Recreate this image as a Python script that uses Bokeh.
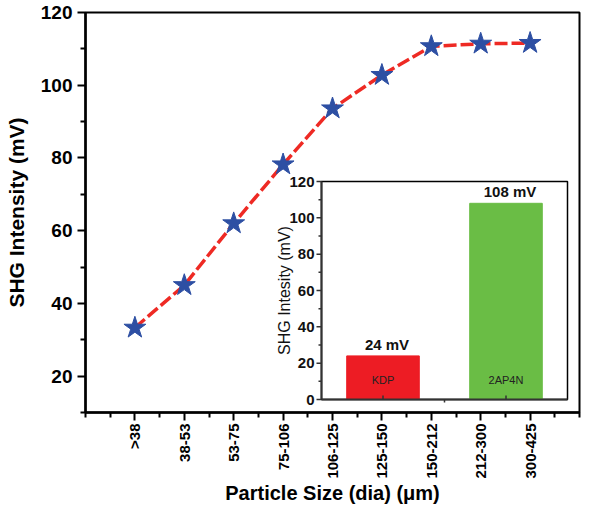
import math
from bokeh.plotting import figure
from bokeh.models import Range1d, FixedTicker, ColumnDataSource
from bokeh.core.properties import value
from bokeh.embed import file_html
from bokeh.resources import INLINE

# ---- data: main series ----
size_labels = [">38", "38-53", "53-75", "75-106", "106-125", "125-150", "150-212", "212-300", "300-425"]
size_pos = [1, 2, 3, 4, 5, 6, 7, 8, 9]
shg_mv = [33.3, 45.0, 62.0, 78.2, 93.6, 102.8, 110.7, 111.4, 111.6]
y_ticks = [20, 40, 60, 80, 100, 120]

# ---- data: inset ----
inset_names = ["KDP", "2AP4N"]
inset_pos = [1, 2]
inset_vals = [24, 108]
inset_val_labels = ["24 mV", "108 mV"]
inset_colors = ["#ed1c24", "#6abd45"]
inset_ticks = [0, 20, 40, 60, 80, 100, 120]

FONT = "Liberation Sans"

# main frame geometry (px)
FW, FH = 494, 400
# inset frame within main frame (px offsets from frame left / top)
IL, IR, IT, IB = 236, 482, 169, 387
IX0, IX1 = 0.5, 2.5
IY0, IY1 = 0, 120

ux = (IX1 - IX0) / (IR - IL)
uy = (IY1 - IY0) / (IB - IT)
ix_start = IX0 - IL * ux
ix_end = IX1 + (FW - IR) * ux
iy_start = IY0 - (FH - IB) * uy
iy_end = IY1 + IT * uy

p = figure(frame_width=FW, frame_height=FH,
           x_range=Range1d(0, 10), y_range=Range1d(10, 120),
           output_backend="svg", toolbar_location=None,
           min_border_left=85, min_border_top=12, min_border_right=12, min_border_bottom=80,
           background_fill_color="white", border_fill_color="white")
p.extra_x_ranges = {"ix": Range1d(ix_start, ix_end)}
p.extra_y_ranges = {"iy": Range1d(iy_start, iy_end)}

p.xgrid.visible = False
p.ygrid.visible = False
p.outline_line_color = "black"
p.outline_line_width = 2
p.outline_line_alpha = 1

# axes
xa = p.xaxis[0]
xa.ticker = FixedTicker(ticks=size_pos, minor_ticks=[0, 0.5, 1.5, 2.5, 3.5, 4.5, 5.5, 6.5, 7.5, 8.5, 9.5, 10])
xa.major_label_overrides = {i: l for i, l in zip(size_pos, size_labels)}
xa.major_label_orientation = math.pi / 2
xa.axis_label = "Particle Size (dia) (μm)"
xa.axis_label_text_font = FONT
xa.axis_label_text_font_style = "bold"
xa.axis_label_text_font_size = "20px"
xa.axis_label_standoff = 0
xa.major_label_text_font = FONT
xa.major_label_text_font_style = "bold"
xa.major_label_text_font_size = "15px"
xa.major_label_standoff = 3

ya = p.yaxis[0]
ya.ticker = FixedTicker(ticks=y_ticks, minor_ticks=[10, 30, 50, 70, 90, 110])
ya.axis_label = "SHG Intensity (mV)"
ya.axis_label_text_font = FONT
ya.axis_label_text_font_style = "bold"
ya.axis_label_text_font_size = "21px"
ya.axis_label_standoff = 10
ya.major_label_text_font = FONT
ya.major_label_text_font_style = "bold"
ya.major_label_text_font_size = "19px"
ya.major_label_standoff = 5

for ax in (xa, ya):
    ax.axis_line_width = 2.5
    ax.axis_line_color = "black"
    ax.major_tick_line_width = 2
    ax.minor_tick_line_width = 2
    ax.major_tick_out = 8
    ax.major_tick_in = 0
    ax.minor_tick_out = 5
    ax.minor_tick_in = 0
    ax.major_label_text_color = "black"
    ax.axis_label_text_color = "black"

# main series
src = ColumnDataSource(dict(x=size_pos, y=shg_mv))
p.line("x", "y", source=src, line_color="#ee2a24", line_width=3.5, line_dash="13 4")
p.scatter("x", "y", source=src, marker="star", size=23,
          fill_color="#2d4fa3", line_color="#2d4fa3")

# ---- inset ----
kw = dict(x_range_name="ix", y_range_name="iy")
p.quad(left=[IX0], right=[IX1], bottom=[IY0], top=[IY1],
       fill_color="white", line_color="black", line_width=1.5, **kw)
p.vbar(x=inset_pos, top=inset_vals, width=0.59, fill_color=inset_colors,
       line_color=inset_colors, **kw)
# inset axis lines
p.segment(x0=[IX0], y0=[IY0], x1=[IX0], y1=[IY1], line_color="#333333", line_width=2, **kw)
p.segment(x0=[IX0], y0=[IY0], x1=[IX1], y1=[IY0], line_color="#333333", line_width=2, **kw)
# inset y ticks
p.ray(x=[IX0] * len(inset_ticks), y=inset_ticks, length=5, length_units="screen",
      angle=math.pi, line_color="#333333", line_width=1.5, **kw)
minor_iy = [10, 30, 50, 70, 90, 110]
p.ray(x=[IX0] * len(minor_iy), y=minor_iy, length=3, length_units="screen",
      angle=math.pi, line_color="#333333", line_width=1.5, **kw)
p.text(x=[IX0] * len(inset_ticks), y=inset_ticks, text=[str(t) for t in inset_ticks],
       x_offset=-7, text_align="right", text_baseline="middle",
       text_font=value(FONT), text_font_style="bold", text_font_size="15px",
       text_color="#111111", **kw)
p.text(x=[IX0], y=[(IY0 + IY1) / 2], text=["SHG Intesity (mV)"], angle=math.pi / 2,
       x_offset=-37, text_align="center", text_baseline="middle",
       text_font=value(FONT), text_font_size="16px", text_color="#111111", **kw)
# inset x ticks
p.ray(x=inset_pos, y=[IY0] * 2, length=4, length_units="screen", angle=math.pi / 2,
      line_color="#333333", line_width=1.5, **kw)
p.ray(x=[1.5], y=[IY0], length=3, length_units="screen", angle=-math.pi / 2,
      line_color="#333333", line_width=1.5, **kw)
# value labels
p.text(x=inset_pos, y=inset_vals, text=inset_val_labels, x_offset=4, y_offset=-3,
       text_align="center", text_baseline="bottom",
       text_font=value(FONT), text_font_style="bold", text_font_size="15px",
       text_color="#111111", **kw)
p.text(x=inset_pos, y=[IY0] * 2, text=inset_names, y_offset=-20,
       text_align="center", text_baseline="middle",
       text_font=value(FONT), text_font_size="11px", text_color="#222222", **kw)

open("out.html", "w").write(file_html(p, INLINE))
